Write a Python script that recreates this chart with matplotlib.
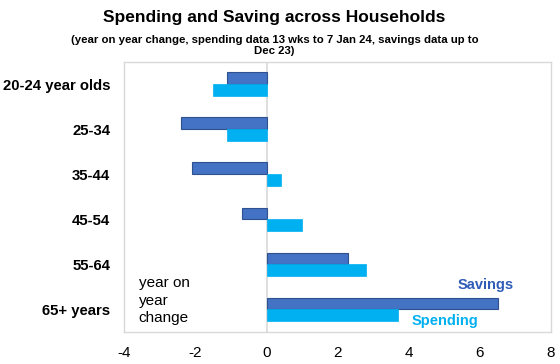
import numpy as np
import matplotlib
import matplotlib.pyplot as plt

matplotlib.rcParams['font.family'] = ['Liberation Sans', 'DejaVu Sans']

groups = ["20-24 year olds", "25-34", "35-44", "45-54", "55-64", "65+ years"]
savings = [-1.1, -2.4, -2.1, -0.7, 2.3, 6.5]
spending = [-1.5, -1.1, 0.4, 1.0, 2.8, 3.7]
xticks = [-4, -2, 0, 2, 4, 6, 8]

c_sav = "#4472C4"
c_spend = "#00B0F0"

fig = plt.figure(figsize=(5.6, 3.64), dpi=100)
ax = fig.add_axes([0.222, 0.088, 0.762, 0.742])

y = np.arange(len(groups))
h = 0.265
ax.barh(y - h/2, savings, height=h, color=c_sav, edgecolor="#2F528F", linewidth=0.8, zorder=3)
ax.barh(y + h/2, spending, height=h, color=c_spend, edgecolor=c_spend, linewidth=0.5, zorder=3)
ax.axvline(0, color="#d9d9d9", linewidth=1.2, zorder=1)

ax.set_ylim(len(groups) - 0.5, -0.5)
ax.set_xlim(-4, 8)
ax.set_yticks(y)
ax.set_yticklabels(groups, fontsize=10.7, fontweight="bold")
ax.set_xticks(xticks)
ax.set_xticklabels([str(t) for t in xticks], fontsize=11)
ax.tick_params(length=0, pad=10)
ax.tick_params(axis="x", pad=10)
for s in ax.spines.values():
    s.set_color("#d9d9d9")
    s.set_linewidth(1)

# note in the corner
for yy, line in zip([4.41, 4.81, 5.19], ["year on", "year", "change"]):
    ax.text(-3.6, yy, line, fontsize=11, va="center", ha="left")
ax.text(5.37, 4.46, "Savings", fontsize=10.5, fontweight="bold", color="#2F5CB8", va="center")
ax.text(4.07, 5.26, "Spending", fontsize=10.5, fontweight="bold", color=c_spend, va="center")

fig.text(0.49, 0.951, "Spending and Saving across Households", ha="center", va="center",
         fontsize=12.5, fontweight="bold")
fig.text(0.49, 0.874, "(year on year change, spending data 13 wks to 7 Jan 24, savings data up to\nDec 23)",
         ha="center", va="center", fontsize=8.2, fontweight="bold", linespacing=1.15)

plt.savefig("out.png", dpi=100)
